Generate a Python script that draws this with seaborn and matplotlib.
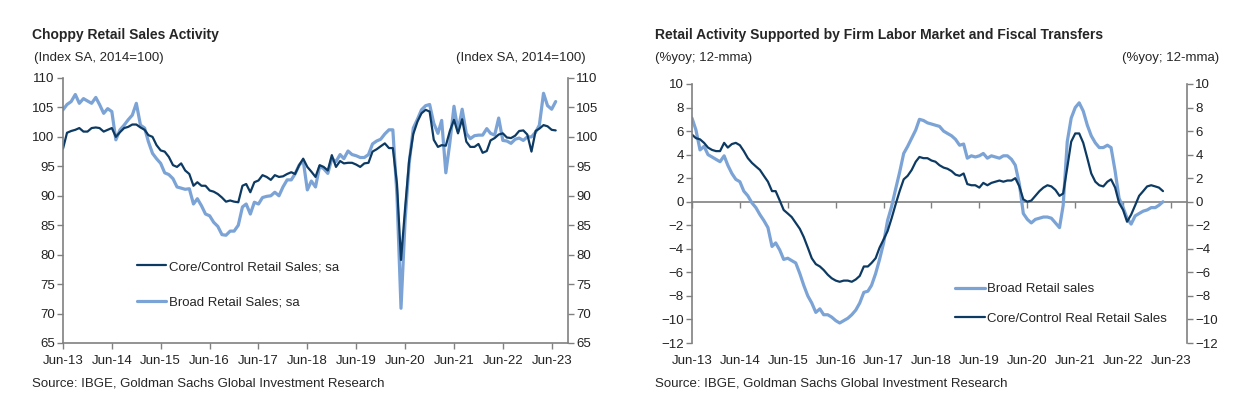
import pandas as pd
import seaborn as sns
import numpy as np
import matplotlib
import matplotlib.pyplot as plt
import matplotlib.dates as mdates

# left chart: index SA, 2014=100, monthly from Jun-13
core_idx = [98.0, 100.7, 101.0, 101.2, 101.5, 100.9, 100.9, 101.5, 101.6, 101.5,
            100.9, 101.2, 101.5, 100.0, 100.8, 101.5, 101.7, 102.1, 102.1, 101.6,
            101.2, 100.3, 100.0, 98.6, 97.7, 97.5, 96.6, 95.2, 94.9, 95.5,
            94.3, 93.7, 91.7, 92.3, 91.7, 91.7, 90.9, 90.7, 90.3, 89.7,
            89.0, 89.2, 89.0, 88.9, 91.7, 92.0, 90.6, 92.3, 92.6, 93.5,
            93.2, 92.7, 93.5, 93.2, 93.3, 93.7, 94.0, 93.7, 95.2, 96.3,
            94.9, 94.1, 93.2, 95.2, 94.9, 94.3, 96.9, 94.9, 95.9, 95.5,
            95.6, 95.6, 95.3, 94.9, 95.5, 95.6, 97.5, 97.9, 98.4, 98.9,
            98.1, 98.1, 92.0, 79.1, 88.0, 96.0, 100.5, 102.6, 104.0, 104.6,
            104.3, 99.5, 98.3, 98.6, 98.5, 101.0, 102.9, 100.6, 103.0, 99.2,
            98.3, 98.3, 98.8, 97.3, 97.6, 99.4, 99.8, 100.4, 100.6, 99.9,
            99.8, 100.2, 101.0, 101.1, 100.4, 97.5, 101.0, 101.4, 102.0, 101.8,
            101.2, 101.1]
broad_idx = [104.6, 105.5, 106.0, 107.2, 105.7, 106.5, 106.1, 105.7, 106.7, 105.5,
             104.0, 104.8, 104.3, 99.5, 101.2, 102.0, 102.9, 103.7, 105.7, 102.0,
             101.5, 99.2, 97.2, 96.3, 95.5, 93.9, 93.6, 92.9, 91.5, 91.3,
             91.1, 91.2, 88.6, 89.5, 88.3, 86.9, 86.6, 85.5, 84.8, 83.4,
             83.3, 84.0, 84.0, 85.0, 88.1, 88.6, 86.9, 88.9, 88.6, 89.7,
             89.9, 90.0, 90.6, 90.0, 91.5, 92.7, 92.7, 93.7, 95.2, 96.0,
             91.0, 92.5, 91.5, 95.0, 94.6, 93.8, 96.3, 95.8, 97.0, 96.3,
             97.6, 97.0, 96.8, 96.5, 96.5, 97.0, 98.8, 99.3, 99.6, 100.5,
             101.2, 101.2, 90.0, 70.9, 86.0, 95.5, 101.5, 103.0, 104.6, 105.3,
             105.5, 102.3, 100.6, 102.8, 93.9, 99.0, 105.2, 101.0, 104.7, 100.6,
             99.7, 100.2, 100.3, 100.3, 101.4, 100.6, 100.3, 103.2, 99.4, 99.3,
             98.9, 99.6, 99.8, 99.4, 100.0, 100.0, 100.8, 102.0, 107.4, 105.3,
             104.7, 106.0]

# right chart: %yoy, 12-mma, monthly from Jun-13
core_yoy = [5.7, 5.4, 5.3, 5.0, 4.6, 4.4, 4.3, 4.3, 5.0, 4.6,
            4.9, 5.0, 4.8, 4.3, 3.7, 3.3, 3.0, 2.7, 2.2, 1.7,
            0.9, 0.9, 0.1, -0.7, -1.0, -1.3, -1.8, -2.3, -3.0, -3.9,
            -4.8, -5.3, -5.5, -5.8, -6.2, -6.5, -6.7, -6.8, -6.7, -6.7,
            -6.8, -6.6, -6.3, -5.5, -5.5, -5.2, -4.8, -3.9, -3.2, -2.5,
            -1.4, -0.2, 0.9, 1.9, 2.2, 2.7, 3.4, 3.8, 3.7, 3.7,
            3.5, 3.4, 3.1, 2.9, 2.8, 2.6, 2.3, 2.2, 2.4, 1.5,
            1.4, 1.4, 1.2, 1.6, 1.4, 1.6, 1.7, 1.8, 1.7, 1.8,
            1.8, 2.0, 1.3, 0.2, 0.0, 0.1, 0.5, 0.9, 1.2, 1.4,
            1.3, 1.0, 0.5, 0.7, 2.9, 5.1, 5.8, 5.8, 5.0, 3.7,
            2.4, 1.7, 1.4, 1.3, 1.7, 1.9, 1.2, -0.1, -0.7, -1.7,
            -1.1, -0.3, 0.5, 0.9, 1.3, 1.4, 1.3, 1.2, 0.9]
broad_yoy = [7.1, 6.1, 4.4, 4.7, 4.0, 3.8, 3.6, 3.4, 3.9, 3.1,
             2.4, 1.9, 1.7, 0.9, 0.5, -0.1, -0.5, -1.1, -1.6, -2.2,
             -3.8, -3.5, -4.1, -4.9, -4.8, -5.0, -5.2, -6.1, -7.1, -8.0,
             -8.6, -9.4, -9.1, -9.6, -9.6, -9.8, -10.1, -10.3, -10.1, -9.9,
             -9.6, -9.2, -8.6, -7.7, -7.6, -7.1, -6.1, -4.9, -3.5, -1.6,
             -0.4, 1.1, 2.5, 4.1, 4.7, 5.4, 6.1, 7.0, 6.9, 6.7,
             6.6, 6.5, 6.4, 6.0, 5.8, 5.6, 5.3, 4.8, 4.9, 3.7,
             3.9, 3.8, 3.9, 4.1, 3.7, 3.9, 3.8, 3.7, 3.9, 3.9,
             3.6, 3.1, 1.5, -1.0, -1.5, -1.8, -1.5, -1.4, -1.3, -1.3,
             -1.4, -1.8, -2.2, -0.3, 5.1, 7.1, 8.0, 8.4, 7.7, 6.5,
             5.6, 5.0, 4.6, 4.6, 4.8, 4.6, 2.6, 0.3, -0.5, -1.4,
             -1.9, -1.2, -1.0, -0.8, -0.7, -0.5, -0.5, -0.3, 0.0]

tick_dates = pd.date_range("2013-06-01", "2023-06-01", freq="12MS")

dark = "#0D3A63"
light = "#7BA3D5"
grey = "#808080"

sns.set_style("white")
plt.rcParams["font.family"] = ["Liberation Sans", "DejaVu Sans"]
plt.rcParams["font.size"] = 9

df1 = pd.DataFrame({"date": pd.date_range("2013-06-01", periods=len(core_idx), freq="MS"),
                    "core": core_idx, "broad": broad_idx})
df2 = pd.DataFrame({"date": pd.date_range("2013-06-01", periods=len(core_yoy), freq="MS"),
                    "core": core_yoy, "broad": broad_yoy})

fig = plt.figure(figsize=(12.4, 4.13), dpi=100)
ax1 = fig.add_axes([63 / 1240, 70 / 413, 505 / 1240, 265 / 413])
ax2 = fig.add_axes([692 / 1240, 70 / 413, 495 / 1240, 259 / 413])

# left chart
sns.lineplot(data=df1, x="date", y="broad", ax=ax1, color=light, lw=2.3, label="Broad Retail Sales; sa")
sns.lineplot(data=df1, x="date", y="core", ax=ax1, color=dark, lw=1.6, label="Core/Control Retail Sales; sa")
ax1.set_ylim(65, 110)
ax1.set_yticks(range(65, 111, 5))
h, l = ax1.get_legend_handles_labels()
ax1.legend([h[1], h[0]], [l[1], l[0]], loc="upper left", bbox_to_anchor=(0.133, 0.335),
           frameon=False, borderpad=0, handlelength=2.2, handletextpad=0.25, labelspacing=1.75,
           fontsize=9.5)

# right chart
sns.lineplot(data=df2, x="date", y="broad", ax=ax2, color=light, lw=2.3, label="Broad Retail sales")
sns.lineplot(data=df2, x="date", y="core", ax=ax2, color=dark, lw=1.6, label="Core/Control Real Retail Sales")
ax2.set_ylim(-12, 10)
ax2.set_yticks(range(-12, 11, 2))
ax2.legend(loc="upper left", bbox_to_anchor=(0.517, 0.257),
           frameon=False, borderpad=0, handlelength=2.3, handletextpad=0.2, labelspacing=1.3,
           fontsize=9.5)

for ax in (ax1, ax2):
    ax.set_xlim(pd.Timestamp("2013-06-01"), pd.Timestamp("2023-10-01"))
    ax.set_xticks(tick_dates)
    ax.xaxis.set_major_formatter(mdates.DateFormatter("%b-%y"))
    ax.set_xlabel("")
    ax.set_ylabel("")
    ax.spines["top"].set_visible(False)
    for s in ("left", "right", "bottom"):
        ax.spines[s].set_color(grey)
        ax.spines[s].set_linewidth(1.2)
    ax.tick_params(axis="y", left=True, right=True, labelleft=True, labelright=True,
                   direction="out", length=4, width=1, color=grey, labelsize=9.5, pad=2,
                   labelcolor="#222222")
    ax.tick_params(axis="x", bottom=True, direction="out", length=4, width=1, color=grey,
                   labelsize=9.5, pad=5, labelcolor="#222222")

# right chart: axis line sits on zero, labels stay at the bottom
ax2.spines["bottom"].set_visible(False)
ax2.tick_params(axis="x", length=0, pad=9)
zero = ax2.secondary_xaxis(12 / 22)
zero.set_xticks(tick_dates)
zero.tick_params(axis="x", direction="in", length=4, width=1, color=grey,
                 labeltop=False, labelbottom=False)
for s in zero.spines.values():
    s.set_color(grey)
    s.set_linewidth(1.2)

# titles and notes
fig.text(32 / 1240, 1 - 35 / 413, "Choppy Retail Sales Activity", weight="bold", fontsize=10, va="center")
fig.text(34 / 1240, 1 - 58 / 413, "(Index SA, 2014=100)", fontsize=9.5, va="center")
fig.text(586 / 1240, 1 - 58 / 413, "(Index SA, 2014=100)", fontsize=9.5, va="center", ha="right")
fig.text(32 / 1240, 1 - 383 / 413, "Source: IBGE, Goldman Sachs Global Investment Research", fontsize=9.5, va="center")

fig.text(655 / 1240, 1 - 35 / 413, "Retail Activity Supported by Firm Labor Market and Fiscal Transfers",
         weight="bold", fontsize=10, va="center")
fig.text(655 / 1240, 1 - 58 / 413, "(%yoy; 12-mma)", fontsize=9.5, va="center")
fig.text(1219 / 1240, 1 - 58 / 413, "(%yoy; 12-mma)", fontsize=9.5, va="center", ha="right")
fig.text(655 / 1240, 1 - 383 / 413, "Source: IBGE, Goldman Sachs Global Investment Research", fontsize=9.5, va="center")

fig.savefig("out.png", dpi=100)
